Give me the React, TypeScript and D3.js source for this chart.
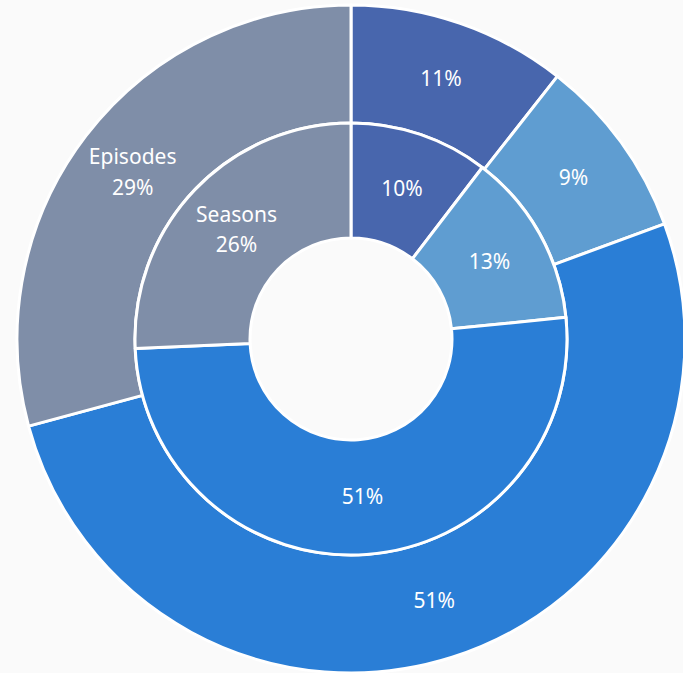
import React from "react";
import * as d3 from "d3";

const categories = ["A", "B", "C", "D"];
const outerValues = [10.6, 8.8, 51.4, 29.2];
const innerValues = [10.4, 13.0, 50.9, 25.7];
const outerNames = ["", "", "", "Episodes"];
const innerNames = ["", "", "", "Seasons"];
const colors = ["#4866ad", "#5f9dd1", "#2a7ed6", "#7f8ea8"];

const W = 683;
const H = 673;
const cx = 351;
const cy = 339;
const R_OUT = 334;
const R_MID = 216;
const R_IN = 101;

type Ring = { values: number[]; names: string[]; r0: number; r1: number };

export default function App() {
  const pie = d3.pie<number>().sort(null).value((d) => d);
  const rings: Ring[] = [
    { values: outerValues, names: outerNames, r0: R_MID, r1: R_OUT },
    { values: innerValues, names: innerNames, r0: R_IN, r1: R_MID },
  ];
  return (
    <svg
      width={W}
      height={H}
      style={{ position: "absolute", left: 0, top: 0, background: "#fafafa" }}
    >
      <rect width={W} height={H} fill="#fafafa" />
      <g transform={`translate(${cx},${cy})`}>
        {rings.map((ring, ri) => {
          const arcs = pie(ring.values);
          const arc = d3
            .arc<d3.PieArcDatum<number>>()
            .innerRadius(ring.r0)
            .outerRadius(ring.r1);
          return (
            <g key={ri}>
              {arcs.map((a, i) => (
                <path
                  key={categories[i]}
                  d={arc(a) || ""}
                  fill={colors[i]}
                  stroke="#ffffff"
                  strokeWidth={3}
                  strokeLinejoin="round"
                />
              ))}
              {arcs.map((a, i) => {
                const [x, y] = arc.centroid(a);
                const label = `${Math.round(a.data)}%`;
                const name = ring.names[i];
                return (
                  <text
                    key={"t" + i}
                    x={x}
                    y={y}
                    fill="#ffffff"
                    fontFamily="'Noto Sans', 'Open Sans', sans-serif"
                    fontSize={21}
                    textAnchor="middle"
                  >
                    {name ? (
                      <>
                        <tspan x={x} dy="-0.35em">{name}</tspan>
                        <tspan x={x} dy="1.43em">{label}</tspan>
                      </>
                    ) : (
                      <tspan x={x} dy="0.35em">{label}</tspan>
                    )}
                  </text>
                );
              })}
            </g>
          );
        })}
      </g>
    </svg>
  );
}
